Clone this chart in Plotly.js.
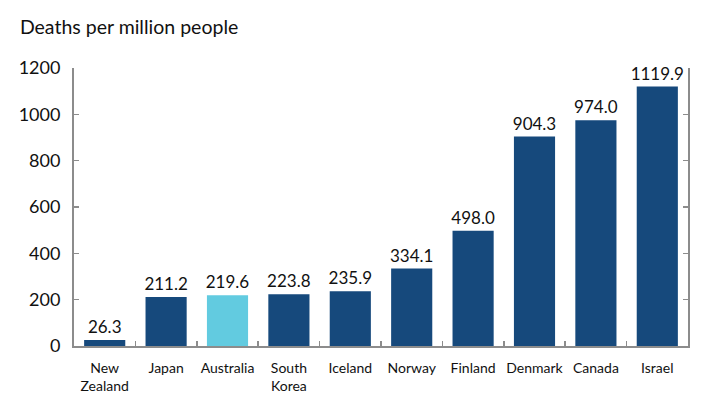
<!DOCTYPE html>
<html>
<head>
<meta charset="utf-8">
<script src="https://cdn.plot.ly/plotly-3.0.1.min.js"></script>
<style>
  body { margin: 0; background: #fff; }
  #chart { width: 710px; height: 418px; }
</style>
</head>
<body>
<div id="chart"></div>
<script>
// countries and deaths per million
var countries = ["New<br>Zealand", "Japan", "Australia", "South<br>Korea", "Iceland",
                 "Norway", "Finland", "Denmark", "Canada", "Israel"];
var deaths = [26.3, 211.2, 219.6, 223.8, 235.9, 334.1, 498.0, 904.3, 974.0, 1119.9];
var yTicks = [0, 200, 400, 600, 800, 1000, 1200];

var dark = "#16497c";
var light = "#62cbe0";
var axisGrey = "#8c8c8c";

// Australia gets the highlight colour
var colours = countries.map(function (c) {
  return c === "Australia" ? light : dark;
});

var barTrace = {
  x: countries,
  y: deaths,
  type: "bar",
  marker: { color: colours },
  texttemplate: "%{y:.1f}",
  textposition: "outside",
  textfont: { size: 17, color: "#111" },
  constraintext: "none",
  cliponaxis: false,
  hoverinfo: "none"
};

var layout = {
  width: 710,
  height: 418,
  margin: { l: 74, r: 22, t: 68, b: 72 },
  paper_bgcolor: "#fff",
  plot_bgcolor: "#fff",
  font: { family: "Lato, 'Noto Sans', sans-serif", color: "#111" },
  showlegend: false,
  bargap: 0.33,
  title: {
    text: "Deaths per million people",
    font: { size: 19.5, color: "#111" },
    xref: "container",
    yref: "container",
    x: 0.028,
    xanchor: "left",
    y: 0.935,
    yanchor: "middle"
  },
  xaxis: {
    type: "category",
    showline: true,
    linecolor: axisGrey,
    linewidth: 2,
    ticks: "inside",
    tickson: "boundaries",
    ticklen: 5,
    tickwidth: 1.5,
    tickcolor: axisGrey,
    tickangle: 0,
    tickfont: { size: 14, color: "#111" },
    ticklabelstandoff: 8,
    showgrid: false,
    zeroline: false
  },
  yaxis: {
    range: [0, 1200],
    tickvals: yTicks,
    showline: true,
    mirror: "ticks",
    linecolor: axisGrey,
    linewidth: 2,
    ticks: "inside",
    ticklen: 5,
    tickwidth: 1.5,
    tickcolor: axisGrey,
    tickfont: { size: 18, color: "#111" },
    ticklabelstandoff: 8,
    showgrid: false,
    zeroline: false
  }
};

Plotly.newPlot("chart", [barTrace], layout, { displayModeBar: false, staticPlot: true });
</script>
</body>
</html>
